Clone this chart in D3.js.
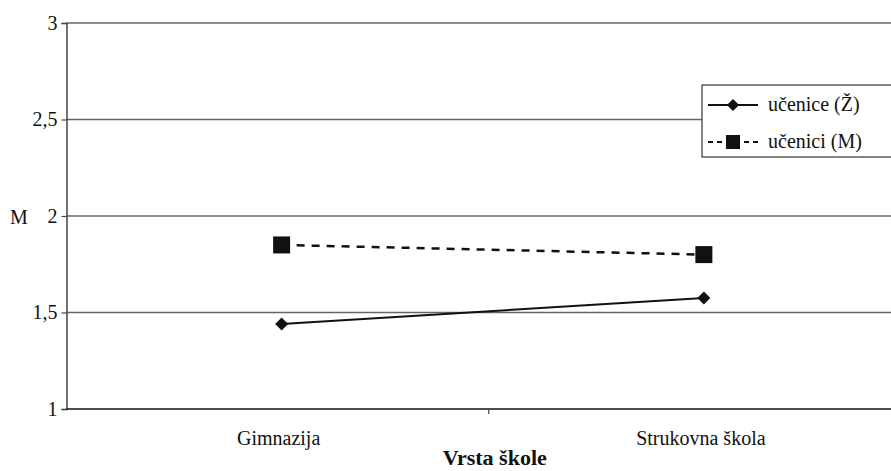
<!DOCTYPE html>
<html>
<head>
<meta charset="utf-8">
<script src="https://cdn.jsdelivr.net/npm/d3@7/dist/d3.min.js"></script>
<style>
  body { margin: 0; background: #fff; }
  svg { display: block; }
</style>
</head>
<body>
<svg id="chart" width="891" height="471"></svg>
<script>
// --- data ---
const categories = ["Gimnazija", "Strukovna škola"];
const seriesNames = ["učenice (Ž)", "učenici (M)"];
const zenske = [1.44, 1.575];
const muski = [1.85, 1.80];
const yTicks = [1, 1.5, 2, 2.5, 3];

const FONT = "'Liberation Serif', 'Times New Roman', Times, serif";

const svg = d3.select("#chart").style("font-family", FONT);
const plotLeft = 66.5, plotTop = 23, plotBottom = 409, plotRight = 911;

const x = d3.scaleBand().domain(categories).range([plotLeft, plotRight]).padding(0);
const y = d3.scaleLinear().domain([1, 3]).range([plotBottom, plotTop]);

// gridlines
svg.append("g").selectAll("line")
  .data(yTicks.filter(d => d > 1))
  .enter().append("line")
  .attr("x1", plotLeft).attr("x2", plotRight)
  .attr("y1", d => y(d)).attr("y2", d => y(d))
  .attr("stroke", "#666").attr("stroke-width", 1.5);

// y axis
const yAxis = d3.axisLeft(y).tickValues(yTicks).tickSize(5).tickPadding(4)
  .tickFormat(d => String(d).replace(".", ","));
const gy = svg.append("g").attr("transform", `translate(${plotLeft},0)`).call(yAxis)
  .attr("font-family", null).attr("font-size", null);
gy.select(".domain").attr("stroke", "#444").attr("stroke-width", 1.5);
gy.selectAll(".tick line").attr("stroke", "#444").attr("stroke-width", 1.2);
gy.selectAll("text").style("font-family", FONT).style("font-size", "20px").attr("fill", "#111");

// x axis baseline + separator ticks
svg.append("line").attr("x1", plotLeft).attr("x2", plotRight)
  .attr("y1", plotBottom).attr("y2", plotBottom)
  .attr("stroke", "#111").attr("stroke-width", 1.5);
svg.append("g").selectAll("line")
  .data(categories.slice(1))
  .enter().append("line")
  .attr("x1", d => x(d)).attr("x2", d => x(d))
  .attr("y1", plotBottom).attr("y2", plotBottom + 5)
  .attr("stroke", "#444").attr("stroke-width", 1.2);
svg.append("g").selectAll("text")
  .data(categories)
  .enter().append("text")
  .attr("x", d => x(d) + x.bandwidth() / 2 + 1)
  .attr("y", 445)
  .attr("text-anchor", "middle")
  .style("font-family", FONT).style("font-size", "20px").attr("fill", "#111")
  .text(d => d);

// axis titles
svg.append("text").attr("x", 10).attr("y", 224)
  .style("font-family", FONT).style("font-size", "20px").attr("fill", "#111").text("M");
svg.append("text").attr("x", (plotLeft + plotRight) / 2 + 6).attr("y", 465)
  .attr("text-anchor", "middle")
  .style("font-family", FONT).style("font-size", "22px")
  .attr("font-weight", "bold").attr("fill", "#111").text("Vrsta škole");

// series
const cx = c => x(c) + x.bandwidth() / 2 + 4;
const line = d3.line().x((d, i) => cx(categories[i])).y(d => y(d));

svg.append("path").datum(zenske).attr("d", line)
  .attr("fill", "none").attr("stroke", "#111").attr("stroke-width", 2);
svg.append("path").datum(muski).attr("d", line)
  .attr("fill", "none").attr("stroke", "#111").attr("stroke-width", 2.5)
  .attr("stroke-dasharray", "8,7");

svg.append("g").selectAll("path")
  .data(zenske).enter().append("path")
  .attr("d", d3.symbol().type(d3.symbolSquare).size(85))
  .attr("transform", (d, i) => `translate(${cx(categories[i])},${y(d)}) rotate(45)`)
  .attr("fill", "#111");
svg.append("g").selectAll("rect")
  .data(muski).enter().append("rect")
  .attr("x", (d, i) => cx(categories[i]) - 8.5)
  .attr("y", d => y(d) - 8.5)
  .attr("width", 17).attr("height", 17)
  .attr("fill", "#111");

// legend
const lg = svg.append("g").attr("transform", "translate(702,85)");
lg.append("rect").attr("x", 0).attr("y", 0).attr("width", 220).attr("height", 72)
  .attr("fill", "#fff").attr("stroke", "#333").attr("stroke-width", 1.2);
const rows = lg.selectAll("g.row").data(seriesNames).enter().append("g")
  .attr("transform", (d, i) => `translate(0,${20 + i * 37})`);
rows.append("line").attr("x1", 6).attr("x2", 56).attr("y1", 0).attr("y2", 0)
  .attr("stroke", "#111").attr("stroke-width", 2)
  .attr("stroke-dasharray", (d, i) => i === 1 ? "5,4" : null);
rows.each(function(d, i) {
  const g = d3.select(this);
  if (i === 0) {
    g.append("path").attr("d", d3.symbol().type(d3.symbolSquare).size(75))
      .attr("transform", "translate(31,0) rotate(45)").attr("fill", "#111");
  } else {
    g.append("rect").attr("x", 24).attr("y", -7).attr("width", 14).attr("height", 14)
      .attr("fill", "#111");
  }
});
rows.append("text").attr("x", 66).attr("y", 6)
  .style("font-family", FONT).style("font-size", "20px").attr("fill", "#111").text(d => d);
</script>
</body>
</html>
